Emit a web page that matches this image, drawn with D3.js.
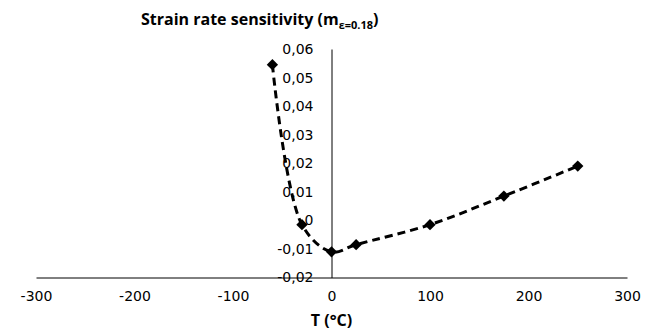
<!DOCTYPE html>
<head>
  <meta charset="utf-8">
  <script src="https://d3js.org/d3.v7.min.js"></script>
  <style>
    body { margin:0; background:#fff; }
    .tick text { font-family: "DejaVu Sans", sans-serif; font-size: 14px; fill:#000; }
  </style>
</head>
<body>
<script>
  // data
  var temps = [-60, -30, 0, 25, 100, 175, 250];
  var mValues = [0.0545, -0.0015, -0.011, -0.0085, -0.0015, 0.0085, 0.019];
  var xTicks = [-300, -200, -100, 0, 100, 200, 300];
  var yTicks = [-0.02, -0.01, 0, 0.01, 0.02, 0.03, 0.04, 0.05, 0.06];

  var W = 652, H = 335;

  var svg = d3.select("body").append("svg")
    .attr("width", W)
    .attr("height", H);

  var x = d3.scaleLinear().domain([-300, 300]).range([36, 627]);
  var y = d3.scaleLinear().domain([-0.02, 0.06]).range([277.5, 49]);

  // plain hyphen and decimal comma, like the original
  var fmtX = function(d) { return String(d); };
  var fmtY = function(d) { return d === 0 ? "0" : d.toFixed(2).replace(".", ","); };

  // x axis sits on y = -0.02
  var xAxis = d3.axisBottom(x).tickValues(xTicks).tickSize(0).tickPadding(14)
    .tickFormat(fmtX);
  var gx = svg.append("g")
    .attr("transform", "translate(0," + y(-0.02) + ")")
    .call(xAxis);
  gx.select(".domain").attr("stroke", "#000").attr("stroke-width", 1);

  // y axis sits on x = 0, labels pushed left
  var yAxis = d3.axisLeft(y).tickValues(yTicks).tickSize(0).tickPadding(18)
    .tickFormat(fmtY);
  var gy = svg.append("g")
    .attr("transform", "translate(" + x(0) + ",0)")
    .call(yAxis);
  gy.select(".domain").attr("stroke", "#000").attr("stroke-width", 1);

  var pts = temps.map(function(t, i) { return [t, mValues[i]]; });

  var line = d3.line()
    .x(function(d) { return x(d[0]); })
    .y(function(d) { return y(d[1]); })
    .curve(d3.curveCatmullRom.alpha(0.5));

  svg.append("path")
    .datum(pts)
    .attr("d", line)
    .attr("fill", "none")
    .attr("stroke", "#000")
    .attr("stroke-width", 3)
    .attr("stroke-dasharray", "8,5");

  // square markers turned 45deg -> diamonds
  svg.selectAll(".pt").data(pts).enter()
    .append("path")
    .attr("class", "pt")
    .attr("d", d3.symbol().type(d3.symbolSquare).size(64))
    .attr("transform", function(d) { return "translate(" + x(d[0]) + "," + y(d[1]) + ") rotate(45)"; })
    .attr("fill", "#000");

  // title
  var title = svg.append("text")
    .attr("x", 141)
    .attr("y", 25)
    .attr("font-family", "Open Sans, sans-serif")
    .attr("font-weight", "bold")
    .attr("font-size", 16);
  title.append("tspan").text("Strain rate sensitivity (m");
  title.append("tspan").attr("font-size", 11).attr("dy", 4).text("\u03b5=0.18");
  title.append("tspan").attr("dy", -4).text(")");

  svg.append("text")
    .attr("x", x(0))
    .attr("y", 326)
    .attr("text-anchor", "middle")
    .attr("font-family", "Open Sans, sans-serif")
    .attr("font-weight", "bold")
    .attr("font-size", 16)
    .text("T (\u00b0C)");
</script>
</body>
